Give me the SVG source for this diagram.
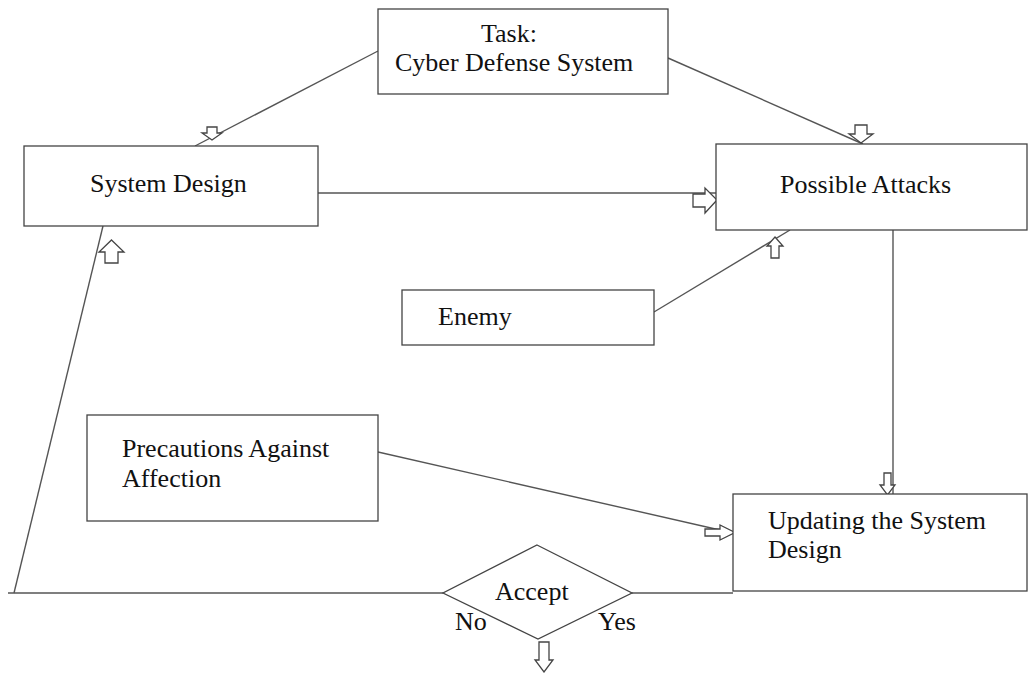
<svg xmlns="http://www.w3.org/2000/svg" width="1028" height="673" viewBox="0 0 1028 673">
<style>
.box{fill:#fff;stroke:#444;stroke-width:1.3}
.ln{fill:none;stroke:#555;stroke-width:1.4}
.ah{fill:#fff;stroke:#444;stroke-width:1.3;stroke-linejoin:miter}
text{font-family:"Liberation Serif","Times New Roman",serif;font-size:26px;fill:#111}
</style>
<rect width="1028" height="673" fill="#fff"/>
<g id="connectors">
<line class="ln" x1="378" y1="51" x2="195" y2="146"/>
<line class="ln" x1="668" y1="58" x2="863" y2="144"/>
<line class="ln" x1="318" y1="193" x2="716" y2="193"/>
<line class="ln" x1="654" y1="312" x2="790" y2="230"/>
<line class="ln" x1="893" y1="230" x2="893" y2="495"/>
<line class="ln" x1="378" y1="452" x2="733" y2="533"/>
<line class="ln" x1="8" y1="593" x2="443" y2="593"/>
<line class="ln" x1="632" y1="593" x2="733" y2="593"/>
<line class="ln" x1="14" y1="593" x2="103" y2="226"/>
<path class="ah" d="M207,127 L217,127 L217,133 L222,133 L212,140 L202,133 L207,133 Z"/>
<path class="ah" d="M855,125 L867,125 L867,134 L873,134 L861,143 L849,134 L855,134 Z"/>
<path class="ah" d="M693,194 L705,194 L705,188 L717,200 L705,213 L705,207 L693,207 Z"/>
<path class="ah" d="M775,237 L783,246 L779,246 L779,258 L771,258 L771,246 L767,246 Z"/>
<path class="ah" d="M111.5,240 L124,252 L118,252 L118,263 L105,263 L105,252 L99,252 Z"/>
<path class="ah" d="M884,473 L891,473 L891,485 L895,485 L887.5,495 L880,485 L884,485 Z"/>
<path class="ah" d="M705,529 L720,529 L720,525 L735,532.5 L720,540 L720,536 L705,536 Z"/>
<path class="ah" d="M539,642 L549,642 L549,660 L553,660 L544,672 L535,660 L539,660 Z"/>
</g>
<g id="task">
<rect class="box" x="378" y="9" width="290" height="85"/>
<text x="481" y="42">Task:</text>
<text x="395" y="71">Cyber Defense System</text>
</g>
<g id="system-design">
<rect class="box" x="24" y="146" width="294" height="80"/>
<text x="90" y="192">System Design</text>
</g>
<g id="possible-attacks">
<rect class="box" x="716" y="144" width="311" height="86"/>
<text x="780" y="193">Possible Attacks</text>
</g>
<g id="enemy">
<rect class="box" x="402" y="290" width="252" height="55"/>
<text x="438" y="325">Enemy</text>
</g>
<g id="precautions">
<rect class="box" x="87" y="415" width="291" height="106"/>
<text x="122" y="457">Precautions Against</text>
<text x="122" y="487">Affection</text>
</g>
<g id="updating">
<rect class="box" x="733" y="494" width="294" height="97"/>
<text x="768" y="529">Updating the System</text>
<text x="768" y="558">Design</text>
</g>
<g id="accept">
<polygon class="box" points="537,545 632,593 538,639 443,593"/>
<text x="495" y="600">Accept</text>
<text x="455" y="630">No</text>
<text x="598" y="630">Yes</text>
</g>
</svg>
